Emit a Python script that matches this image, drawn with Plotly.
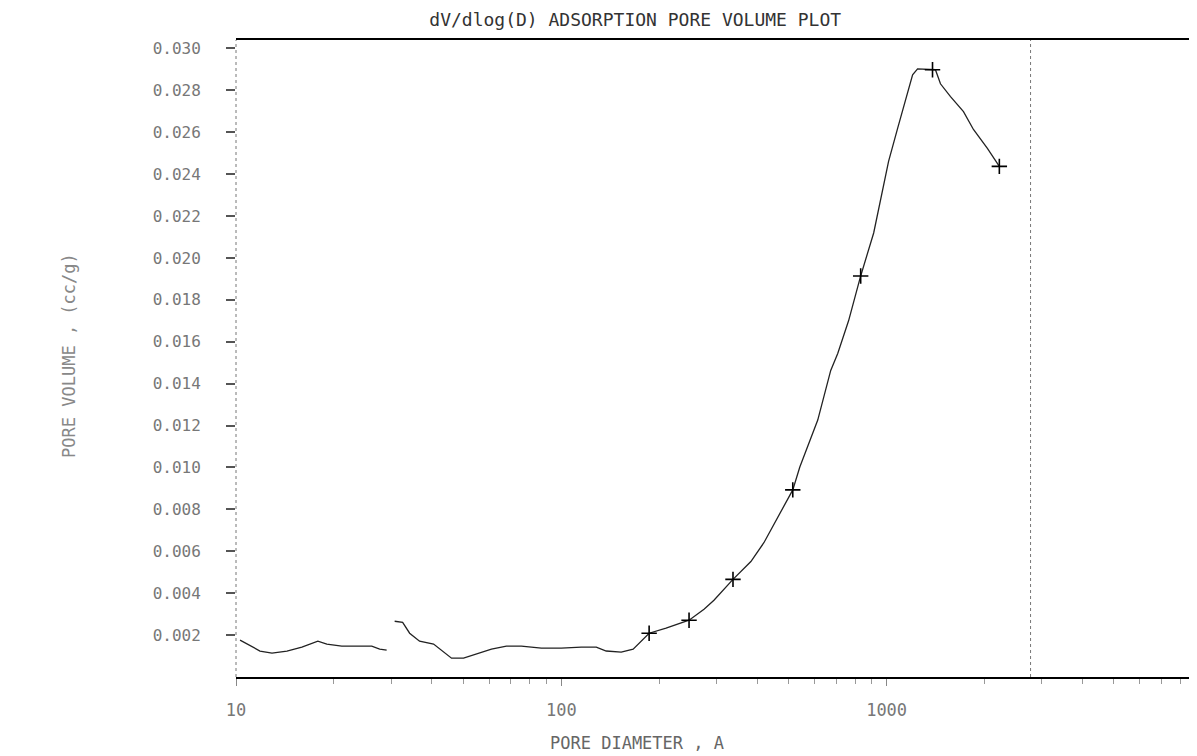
import plotly.graph_objects as go

# ---- data ----
# pore diameter (A) / dV/dlog(D) (cc/g); None marks the break in the trace
pore_diameter = [10.29, 11.04, 11.85, 12.90, 14.34, 15.94, 17.35, 17.85, 19.02, 21.14,
                 24.35, 26.14, 27.65, 29.05, None,
                 30.74, 32.53, 34.18, 36.67, 40.49, 42.84, 45.98, 50.05, 54.87, 61.00,
                 67.81, 75.39, 86.83, 100.0, 115.2, 128.1, 137.4, 152.8, 166.3, 186.2,
                 209.9, 247.0, 274.6, 294.6, 337.1, 382.6, 419.5, 489.8, 514.7, 541.0,
                 614.2, 673.3, 707.5, 764.4, 832.3, 912.5, 958.5, 1014, 1081, 1160,
                 1202, 1245, 1413, 1464, 1572, 1723, 1849, 2041, 2221]
dv_dlogd = [0.00176, 0.00152, 0.00124, 0.00114, 0.00124, 0.00143, 0.00162, 0.00171, 0.00157, 0.00147,
            0.00147, 0.00147, 0.00133, 0.00128, None,
            0.00266, 0.00261, 0.00209, 0.00171, 0.00157, 0.00128, 0.00090, 0.00090, 0.00109, 0.00133,
            0.00147, 0.00147, 0.00138, 0.00138, 0.00143, 0.00143, 0.00124, 0.00119, 0.00133, 0.00209,
            0.00233, 0.00271, 0.00323, 0.00366, 0.00466, 0.00551, 0.00641, 0.00831, 0.00893, 0.01002,
            0.01226, 0.01463, 0.01544, 0.01701, 0.01914, 0.02119, 0.02285, 0.02461, 0.02618, 0.02793,
            0.02874, 0.02902, 0.02898, 0.02831, 0.02770, 0.02698, 0.02613, 0.02523, 0.02437]

# measured points marked with "+"
marker_diameter = [186.2, 247.0, 337.1, 514.7, 832.3, 1384, 2221]
marker_value = [0.00209, 0.00271, 0.00466, 0.00893, 0.01914, 0.02898, 0.02437]

x_ticks = [10, 100, 1000]
x_tick_labels = ["10", "100", "1000"]
x_minor = [20, 30, 40, 50, 60, 70, 80, 90,
           200, 300, 400, 500, 600, 700, 800, 900,
           2000, 3000, 4000, 5000, 6000, 7000, 8000, 9000]
y_ticks = [0.002, 0.004, 0.006, 0.008, 0.010, 0.012, 0.014, 0.016,
           0.018, 0.020, 0.022, 0.024, 0.026, 0.028, 0.030]
y_tick_labels = [f"{v:.3f}" for v in y_ticks]

dotted_line_d = 2770   # dotted vertical guide on the scan

FONT = "DejaVu Sans Mono"

fig = go.Figure()

fig.add_trace(go.Scatter(
    x=pore_diameter, y=dv_dlogd, mode="lines",
    line=dict(color="#222222", width=1.3),
    connectgaps=False, hoverinfo="x+y"
))
fig.add_trace(go.Scatter(
    x=marker_diameter, y=marker_value, mode="markers",
    marker=dict(symbol="cross-thin", size=11, line=dict(color="black", width=1.6)),
    hoverinfo="x+y"
))

# faint dotted verticals (left axis, guide, right frame)
for xr, xv in [("paper", 0), ("x", dotted_line_d), ("paper", 1)]:
    fig.add_shape(type="line", xref=xr, yref="paper", x0=xv, x1=xv, y0=0, y1=1,
                  line=dict(color="#777777", width=1, dash="dot"))

fig.add_annotation(text="PORE DIAMETER , A", xref="paper", yref="paper",
                   x=0.418, y=-0.104, showarrow=False, yanchor="middle",
                   font=dict(family=FONT, size=17, color="#666666"))
fig.add_annotation(text="PORE VOLUME , (cc/g)", xref="paper", yref="paper",
                   x=-0.186, y=0.505, showarrow=False, textangle=-90,
                   font=dict(family=FONT, size=17, color="#888888"))

# page body adds an 8px offset, so margins are shifted to compensate
fig.update_layout(
    width=1197, height=756,
    paper_bgcolor="white", plot_bgcolor="white",
    margin=dict(l=228, r=10, t=32, b=87),
    showlegend=False,
    title=dict(text="dV/dlog(D) ADSORPTION PORE VOLUME PLOT",
               x=0.524, xanchor="center", y=0.985, yanchor="middle",
               font=dict(family=FONT, size=18, color="#333333")),
    xaxis=dict(type="log", range=[1.0, 3.948],
               tickvals=x_ticks, ticktext=x_tick_labels,
               ticks="outside", ticklen=7, tickcolor="#888888",
               minor=dict(tickvals=x_minor, ticks="outside", ticklen=5, tickcolor="#999999"),
               showline=True, linecolor="black", linewidth=2, mirror=True,
               showgrid=False, zeroline=False, ticklabelstandoff=10,
               tickfont=dict(family=FONT, size=17, color="#777777")),
    yaxis=dict(range=[0, 0.0304],
               tickvals=y_ticks, ticktext=y_tick_labels,
               ticks="outside", ticklen=9, tickwidth=2, tickcolor="#555555",
               showline=False, showgrid=False, zeroline=False,
               ticklabelstandoff=22,
               tickfont=dict(family=FONT, size=16, color="#777777")),
)

fig.write_html("out.html")
